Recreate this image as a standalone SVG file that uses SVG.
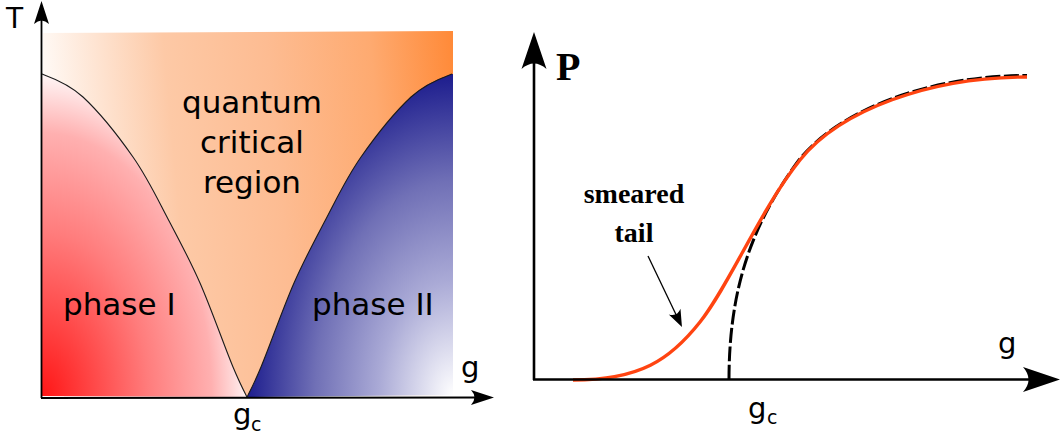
<svg xmlns="http://www.w3.org/2000/svg" width="1061" height="439" viewBox="0 0 1061 439">
<style>
.sans{font-family:"DejaVu Sans","Liberation Sans",sans-serif;fill:#000}
.serif{font-family:"Liberation Serif","DejaVu Serif",serif;font-weight:bold;fill:#000}
.axL{stroke:#000;stroke-width:1.8;fill:none}
.axR{stroke:#000;stroke-width:2.6;fill:none}
.edge{stroke:#1a1a1a;stroke-width:1.1;fill:none}
</style>
<defs>
<marker id="arrL" markerUnits="userSpaceOnUse" orient="auto" refX="-6" refY="0" markerWidth="30" markerHeight="20" overflow="visible">
<path d="M0,0 L-23,-7.5 Q-16,0 -23,7.5 Z" fill="#000"/>
</marker>
<marker id="arrR" markerUnits="userSpaceOnUse" orient="auto" refX="-10" refY="0" markerWidth="40" markerHeight="30" overflow="visible">
<path d="M0,0 L-37,-12.5 Q-26,0 -37,12.5 Z" fill="#000"/>
</marker>
<marker id="arrS" markerUnits="userSpaceOnUse" orient="auto" refX="-5" refY="0" markerWidth="20" markerHeight="14" overflow="visible">
<path d="M0,0 L-17,-6.5 Q-11,0 -17,6.5 Z" fill="#000"/>
</marker>
<linearGradient id="gBg" gradientUnits="userSpaceOnUse" x1="42" y1="70" x2="452" y2="32">
<stop offset="0" stop-color="#fffaf6"/>
<stop offset="0.3" stop-color="#fdc9a6"/>
<stop offset="0.55" stop-color="#fdbc92"/>
<stop offset="0.8" stop-color="#feaa70"/>
<stop offset="1" stop-color="#ff8a38"/>
</linearGradient>
<radialGradient id="gRed" gradientUnits="userSpaceOnUse" cx="0" cy="0" r="1" gradientTransform="translate(42 397) scale(212 330)">
<stop offset="0" stop-color="#ff1616"/>
<stop offset="0.5" stop-color="#ff7c7c"/>
<stop offset="0.8" stop-color="#ffb0b0"/>
<stop offset="1" stop-color="#ffffff"/>
</radialGradient>
<radialGradient id="gBlue" gradientUnits="userSpaceOnUse" cx="0" cy="0" r="1" gradientTransform="translate(453 396) scale(212 330)">
<stop offset="0" stop-color="#ffffff"/>
<stop offset="0.35" stop-color="#aaaad6"/>
<stop offset="0.65" stop-color="#7070b6"/>
<stop offset="1" stop-color="#16168a"/>
</radialGradient>
</defs>

<g id="phase-diagram">
<g id="qc-region">
<path d="M43,33 L453,31 L453,395 L43,396 Z" fill="url(#gBg)"/>
</g>
<g id="phase-1">
<path d="M42,74 C50,77 68,83 83,97 C98,111 119,137 133,157 C147,177 156,196 167,217 C178,238 189,258 200,283 C211,308 225,348 233,367 C241,386 245,393 247,397 L42,396 Z" fill="url(#gRed)"/>
<path class="edge" d="M42,74 C50,77 68,83 83,97 C98,111 119,137 133,157 C147,177 156,196 167,217 C178,238 189,258 200,283 C211,308 225,348 233,367 C241,386 245,393 247,397"/>
</g>
<g id="phase-2">
<path d="M452,74 C444,77 426,83 411,97 C396,111 375,137 361,157 C347,177 338,196 327,217 C316,238 305,258 294,283 C283,308 269,348 261,367 C253,386 249,393 247,397 L453,395 L453,74 Z" fill="url(#gBlue)"/>
<path class="edge" d="M452,74 C444,77 426,83 411,97 C396,111 375,137 361,157 C347,177 338,196 327,217 C316,238 305,258 294,283 C283,308 269,348 261,367 C253,386 249,393 247,397" stroke="#333"/>
</g>
<g id="labels-left">
<text class="sans" x="6" y="28" font-size="28">T</text>
<text class="sans" x="252" y="113" font-size="31" text-anchor="middle">quantum</text>
<text class="sans" x="252" y="153" font-size="31" text-anchor="middle">critical</text>
<text class="sans" x="252" y="193" font-size="31" text-anchor="middle">region</text>
<text class="sans" x="63" y="315" font-size="31">phase I</text>
<text class="sans" x="312" y="315" font-size="31">phase II</text>
<text class="sans" x="461" y="377" font-size="29">g</text>
<text class="sans" x="233" y="424" font-size="29">g</text>
<text class="sans" x="251" y="431" font-size="19">c</text>
</g>
</g>

<g id="order-parameter">
<g id="curves">
<path d="M729,380 C729,292 750,226 799,160 C840,109 930,75.5 1027,75.5" fill="none" stroke="#000" stroke-width="3" stroke-dasharray="15,3.5"/>
<path d="M573,380 C640,380 670,360 700,322 C730,284 760,210 800,160 C840,110 930,77 1027,77" fill="none" stroke="#ff4411" stroke-width="3.4"/>
</g>
<g id="labels-right">
<text class="serif" x="556" y="80" font-size="40">P</text>
<text class="serif" x="634" y="203" font-size="28" text-anchor="middle">smeared</text>
<text class="serif" x="634" y="242" font-size="28" text-anchor="middle">tail</text>
<text class="sans" x="998" y="353" font-size="29">g</text>
<text class="sans" x="748" y="418" font-size="29">g</text>
<text class="sans" x="767" y="424" font-size="19">c</text>
</g>
</g>

<g id="connectors">
<path class="axL" d="M41.5,398 L41.5,7" marker-end="url(#arrL)"/>
<path class="axL" d="M41,398 L488,397.5" marker-end="url(#arrL)"/>
<path class="axR" d="M534,380 L534,42" marker-end="url(#arrR)"/>
<path class="axR" d="M533,379.5 L1050,379.5" marker-end="url(#arrR)"/>
<path d="M648,256 L679.8,322.5" fill="none" stroke="#000" stroke-width="1.3" marker-end="url(#arrS)"/>
</g>
</svg>
